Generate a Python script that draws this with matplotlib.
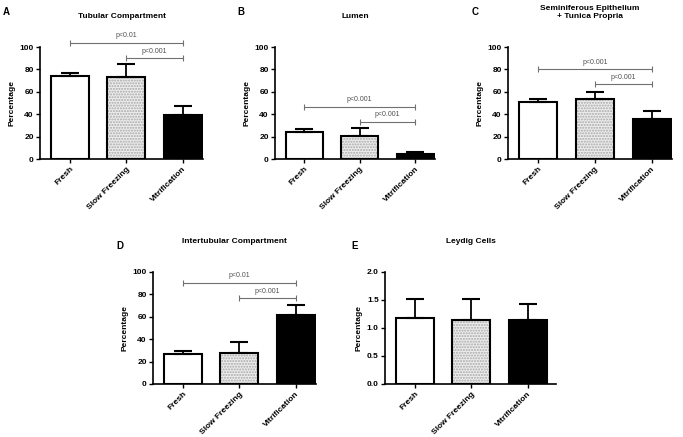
import numpy as np
import matplotlib
matplotlib.use('Agg')
import matplotlib.pyplot as plt

plt.rcParams['font.family'] = ['Liberation Sans', 'DejaVu Sans']

groups = ['Fresh', 'Slow Freezing', 'Vitrification']

# means and upper SEM
tubular = [74.1, 73.2, 39.3]
tubular_err = [2.9, 11.3, 8.3]
lumen = [23.8, 20.5, 4.2]
lumen_err = [3.0, 6.9, 2.0]
epith = [50.9, 53.9, 35.7]
epith_err = [2.7, 5.6, 7.2]
intertub = [26.8, 27.4, 61.6]
intertub_err = [2.7, 10.4, 8.9]
leydig = [1.18, 1.14, 1.15]
leydig_err = [0.33, 0.38, 0.28]

# significance brackets: (from group, to group, height, label)
sig_A = [(0, 2, 103.8, 'p<0.01'), (1, 2, 89.9, 'p<0.001')]
sig_B = [(0, 2, 46.7, 'p<0.001'), (1, 2, 33.3, 'p<0.001')]
sig_C = [(0, 2, 80.4, 'p<0.001'), (1, 2, 67.0, 'p<0.001')]
sig_D = [(0, 2, 90.5, 'p<0.01'), (1, 2, 76.5, 'p<0.001')]

W, H = 683, 437
fig = plt.figure(figsize=(W / 100, H / 100), dpi=100)


def px_axes(left, right, top, bottom):
    return fig.add_axes([left / W, 1 - bottom / H, (right - left) / W, (bottom - top) / H])


def panel(ax, vals, errs, ymax, yticks, title, letter, sigs, xright=2.36, ty=1.27):
    x = np.arange(3)
    w = 0.67
    # white / dotted / black bars
    ax.bar(x[0], vals[0], w, color='white', zorder=2)
    ax.bar(x[1], vals[1], w, color='#ededed', edgecolor='#a8a8a8', hatch='......', lw=0, zorder=2)
    ax.bar(x[2], vals[2], w, color='black', zorder=2)
    ax.bar(x, vals, w, fill=False, edgecolor='black', lw=1.5, zorder=3)
    ax.errorbar(x, vals, yerr=[np.zeros(3), errs], fmt='none', ecolor='black',
                elinewidth=1.3, capsize=6.5, capthick=1.5, zorder=4)
    for i, j, y, lab in sigs:
        ax.errorbar([(i + j) / 2], [y], xerr=[[(j - i) / 2]], fmt='none', ecolor='#707070',
                    elinewidth=0.8, capsize=2, capthick=0.8, clip_on=False, zorder=5)
        ax.annotate(lab, ((i + j) / 2, y), xytext=(0, 5), textcoords='offset points',
                    ha='center', va='center', fontsize=5, color='#505050', annotation_clip=False)
    ax.set_xlim(-0.53, xright)
    ax.set_ylim(0, ymax)
    ax.set_yticks(yticks)
    ax.set_xticks(x)
    ax.set_xticklabels(groups, rotation=45, ha='right', va='top', rotation_mode='anchor')
    for s in ['top', 'right']:
        ax.spines[s].set_visible(False)
    for s in ['left', 'bottom']:
        ax.spines[s].set_linewidth(1.2)
    ax.tick_params(width=1.0, length=3, labelsize=6, pad=1.5)
    for t in ax.get_xticklabels() + ax.get_yticklabels():
        t.set_fontweight('bold')
    ax.set_ylabel('Percentage', fontsize=6, fontweight='bold', labelpad=3)
    ax.text(0.5, ty, title, transform=ax.transAxes, ha='center', va='center',
            fontsize=6, fontweight='bold', linespacing=1.3)
    return ax


axA = px_axes(40, 203, 47, 159)
panel(axA, tubular, tubular_err, 100, range(0, 101, 20), 'Tubular Compartment', 'A', sig_A)
axB = px_axes(275, 435, 47, 159)
panel(axB, lumen, lumen_err, 100, range(0, 101, 20), 'Lumen', 'B', sig_B)
axC = px_axes(508, 672, 47, 159)
panel(axC, epith, epith_err, 100, range(0, 101, 20),
      'Seminiferous Epithelium\n+ Tunica Propria', 'C', sig_C, ty=1.31)
axD = px_axes(153, 316, 272, 384)
panel(axD, intertub, intertub_err, 100, range(0, 101, 20), 'Intertubular Compartment', 'D', sig_D)
axE = px_axes(385, 556, 272, 384)
panel(axE, leydig, leydig_err, 2.0, [0.0, 0.5, 1.0, 1.5, 2.0], 'Leydig Cells', 'E', [], xright=2.5)
axE.set_yticklabels(['0.0', '0.5', '1.0', '1.5', '2.0'], fontweight='bold')

# panel letters
for lab, px, py in [('A', 6, 12), ('B', 241, 12), ('C', 475, 12), ('D', 120, 246), ('E', 355, 246)]:
    fig.text(px / W, 1 - py / H, lab, fontsize=7, fontweight='bold', ha='center', va='center')

fig.savefig('out.png', dpi=100)
